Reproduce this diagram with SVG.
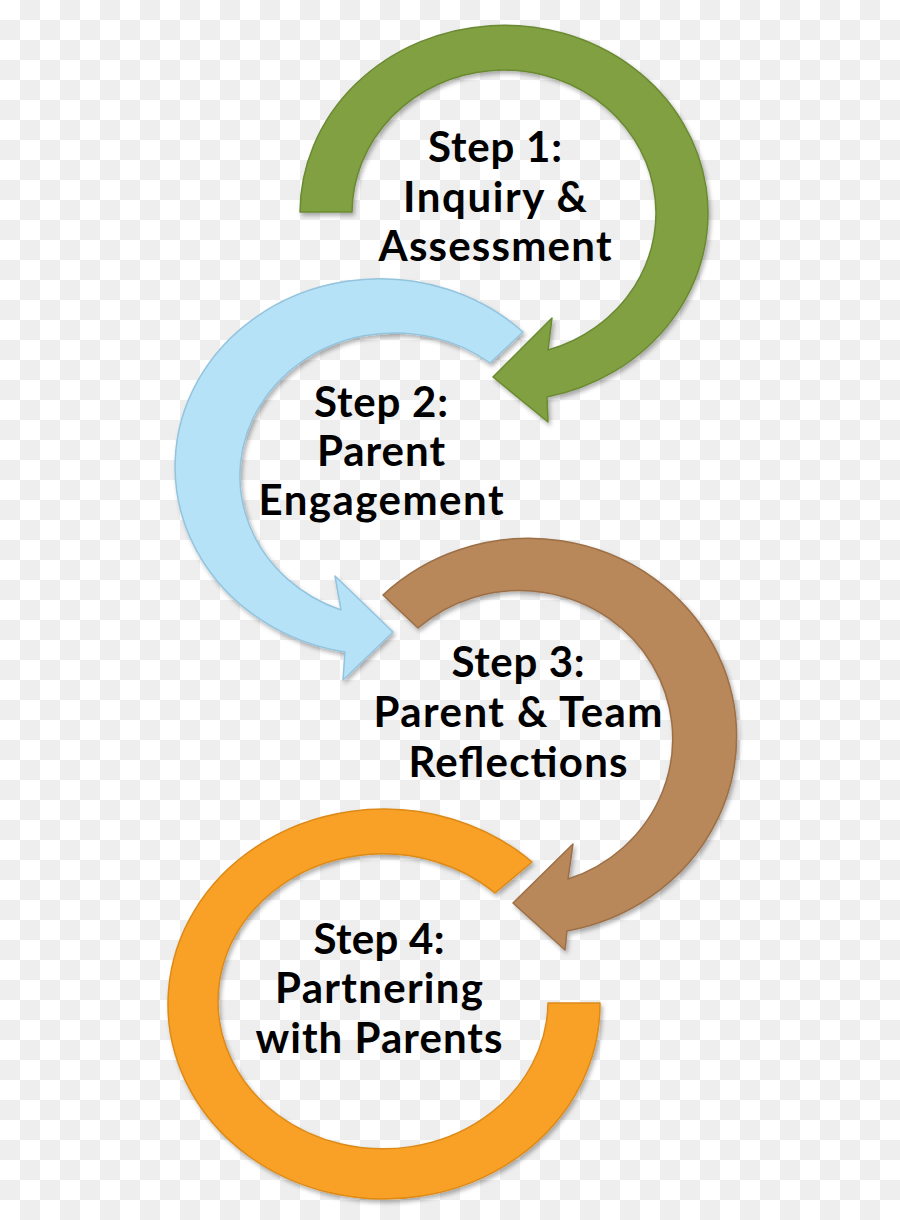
<svg xmlns="http://www.w3.org/2000/svg" width="900" height="1220" viewBox="0 0 900 1220">
  <defs>
    <pattern id="checker" x="0" y="0" width="40" height="40" patternUnits="userSpaceOnUse">
      <rect width="40" height="40" fill="#ffffff"/>
      <rect x="20" y="0" width="20" height="20" fill="#eeeeee"/>
      <rect x="0" y="20" width="20" height="20" fill="#eeeeee"/>
    </pattern>
    <filter id="shadow" x="-10%" y="-10%" width="120%" height="120%">
      <feDropShadow dx="2" dy="3" stdDeviation="2" flood-color="#000000" flood-opacity="0.3"/>
    </filter>
  </defs>
  <style>
    .arrow { filter: url(#shadow); stroke-width: 1.5; stroke-linejoin: round; }
    .green { fill: #80a042; stroke: #6b8a33; }
    .blue { fill: #b6e2f8; stroke: #93c4de; }
    .brown { fill: #b8875a; stroke: #9c6f46; }
    .orange { fill: #f8a128; stroke: #dd8a17; }
    .label { font-family: Lato, "Liberation Sans", sans-serif; font-weight: bold; font-size: 42px; fill: #000000; text-anchor: middle; }
  </style>
  <rect width="900" height="1220" fill="url(#checker)"/>

  <g id="connectors">
    <path id="arrow1" class="arrow green" d="M 300 212 A 204 188 0 1 1 547 397 L 548 422 L 493 377 L 552 318 L 548 350 A 152 143 0 1 0 352 212 Z"/>
    <path id="arrow2" class="arrow blue" d="M 523 332 A 205 188 0 1 0 345 652 L 343 680 L 393 632 L 335 576 L 341 610 A 155 143 0 1 1 490 363 Z"/>
    <path id="arrow3" class="arrow brown" d="M 383 595 A 208 198 0 1 1 567 931 L 565 950 L 513 903 L 573 844 L 568 879 A 153 148 0 1 0 418 628 Z"/>
    <path id="arrow4" class="arrow orange" d="M 532 862 A 216 195 0 1 0 600 1003 L 548 1003 A 165 147.5 0 1 1 495 893 Z"/>
  </g>

  <g id="step1">
    <text class="label" x="495" y="162" textLength="134">Step 1:</text>
    <text class="label" x="495" y="212" textLength="184">Inquiry &amp;</text>
    <text class="label" x="495" y="261" textLength="233">Assessment</text>
  </g>
  <g id="step2">
    <text class="label" x="381" y="417" textLength="134">Step 2:</text>
    <text class="label" x="381" y="466" textLength="128">Parent</text>
    <text class="label" x="381" y="515" textLength="245">Engagement</text>
  </g>
  <g id="step3">
    <text class="label" x="518" y="677" textLength="133">Step 3:</text>
    <text class="label" x="518" y="727" textLength="289">Parent &amp; Team</text>
    <text class="label" x="518" y="777" textLength="219">Reflections</text>
  </g>
  <g id="step4">
    <text class="label" x="379" y="954" textLength="131">Step 4:</text>
    <text class="label" x="379" y="1003" textLength="208">Partnering</text>
    <text class="label" x="379" y="1053" textLength="247">with Parents</text>
  </g>
</svg>
